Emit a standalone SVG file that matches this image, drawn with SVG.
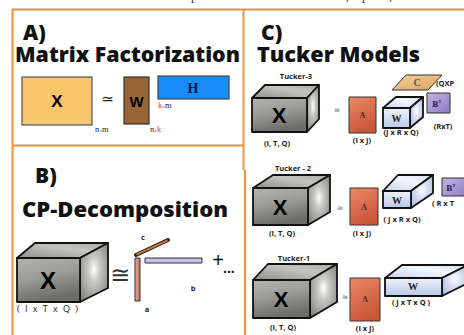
<svg xmlns="http://www.w3.org/2000/svg" width="464" height="335" viewBox="0 0 464 335">
  <defs>
    <linearGradient id="gFront" x1="0" y1="0" x2="0.3" y2="1">
      <stop offset="0" stop-color="#b4b4b0"/>
      <stop offset="0.5" stop-color="#9a9a96"/>
      <stop offset="1" stop-color="#6c6c68"/>
    </linearGradient>
    <linearGradient id="gTop" x1="0" y1="1" x2="1" y2="0">
      <stop offset="0" stop-color="#8e8e8a"/>
      <stop offset="0.6" stop-color="#c4c4c0"/>
      <stop offset="1" stop-color="#a8a8a4"/>
    </linearGradient>
    <radialGradient id="gSide" cx="0.5" cy="0.45" r="0.7">
      <stop offset="0" stop-color="#ffffff"/>
      <stop offset="0.3" stop-color="#c8c8c6"/>
      <stop offset="1" stop-color="#7c7c78"/>
    </radialGradient>
    <linearGradient id="bFront" x1="0" y1="0" x2="0" y2="1">
      <stop offset="0" stop-color="#eef2fb"/>
      <stop offset="1" stop-color="#b9c8e8"/>
    </linearGradient>
    <linearGradient id="bTop" x1="0" y1="1" x2="1" y2="0">
      <stop offset="0" stop-color="#c6d2ee"/>
      <stop offset="0.6" stop-color="#f4f7fd"/>
      <stop offset="1" stop-color="#d2dcf2"/>
    </linearGradient>
    <radialGradient id="bSide" cx="0.5" cy="0.45" r="0.7">
      <stop offset="0" stop-color="#ffffff"/>
      <stop offset="0.35" stop-color="#d8e0f4"/>
      <stop offset="1" stop-color="#a9b8de"/>
    </radialGradient>
    <linearGradient id="gA" x1="0" y1="0" x2="0.4" y2="1">
      <stop offset="0" stop-color="#ec8a66"/>
      <stop offset="1" stop-color="#c9573a"/>
    </linearGradient>
    <linearGradient id="gB" x1="0" y1="0" x2="1" y2="1">
      <stop offset="0" stop-color="#c2b4e2"/>
      <stop offset="1" stop-color="#8f7cc2"/>
    </linearGradient>
    <linearGradient id="gC" x1="0" y1="0" x2="1" y2="1">
      <stop offset="0" stop-color="#f6d4a2"/>
      <stop offset="1" stop-color="#d99e5c"/>
    </linearGradient>
    <linearGradient id="gVa" x1="0" y1="0" x2="1" y2="0">
      <stop offset="0" stop-color="#e8a898"/>
      <stop offset="1" stop-color="#c07060"/>
    </linearGradient>
    <style>
      .frame { stroke: #f0923a; stroke-width: 2; fill: none; }
      .title { font-family: "Open Sans", "Liberation Sans", sans-serif; font-weight: 800; fill: #111; }
      .hd { font-size: 21px; }
      .sub { font-size: 21px; }
      .edge { stroke: #111; stroke-width: 1.8; stroke-linejoin: round; }
      .thin { stroke: #333; stroke-width: 1; stroke-linejoin: round; }
      .big { font-family: "Liberation Sans", Arial, sans-serif; font-weight: 700; fill: #000; text-anchor: middle; }
      .lbl { font-family: "Open Sans", "Liberation Sans", sans-serif; font-weight: 700; font-size: 7.5px; fill: #222; text-anchor: middle; }
      .ser { font-family: "Liberation Serif", "Times New Roman", serif; font-weight: 700; text-anchor: middle; }
      .dim { font-family: "Liberation Serif", "Times New Roman", serif; font-size: 8.5px; fill: #222; }
      .red { fill: #e2322e; }
    </style>
  </defs>

  <rect width="464" height="335" fill="#ffffff"/>

  <!-- clipped caption line above the frame -->
  <g font-family="Liberation Serif, serif" font-size="12" fill="#222">
    <text x="191" y="0">p</text>
    <text x="346" y="0">,</text>
    <text x="362" y="0">p</text>
    <text x="389" y="0">,</text>
  </g>

  <!-- panel frame -->
  <g id="frame">
    <line class="frame" x1="12" y1="9.5" x2="464" y2="9.5"/>
    <line class="frame" x1="12.5" y1="9" x2="12.5" y2="335"/>
    <line class="frame" x1="243.5" y1="9" x2="243.5" y2="170"/>
    <line class="frame" x1="245" y1="170" x2="245" y2="335"/>
    <line class="frame" x1="12" y1="145.5" x2="243" y2="145.5"/>
  </g>

  <!-- A) matrix factorization -->
  <g id="panelA">
    <text class="title hd" x="23" y="40">A)</text>
    <text class="title sub" x="15" y="62" textLength="225" lengthAdjust="spacingAndGlyphs">Matrix Factorization</text>
    <g id="A-X">
      <rect x="22" y="77" width="70" height="48" fill="#f8c66c" stroke="#555" stroke-width="1.2"/>
      <text class="big" x="57" y="107" font-size="17">X</text>
      <text class="dim" x="95" y="132">n<tspan font-size="5">×</tspan>m</text>
    </g>
    <text x="107.5" y="104" font-family="DejaVu Sans, sans-serif" font-size="15" text-anchor="middle" fill="#222">≃</text>
    <g id="A-W">
      <rect x="124" y="77" width="25" height="47" fill="#9a6534" stroke="#333" stroke-width="1.2"/>
      <text class="big" x="136.5" y="107" font-size="15">W</text>
      <text class="dim" x="150" y="132">n<tspan font-size="5">×</tspan><tspan class="red">k</tspan></text>
    </g>
    <g id="A-H">
      <rect x="158" y="76" width="71" height="23" fill="#1a8cfa" stroke="#444" stroke-width="1.2"/>
      <text class="ser" x="193" y="93" font-size="14" fill="#0a1a40">H</text>
      <text class="dim" x="158" y="108"><tspan class="red">k</tspan><tspan font-size="5">×</tspan>m</text>
    </g>
  </g>

  <!-- B) CP decomposition -->
  <g id="panelB">
    <text class="title hd" x="35" y="183">B)</text>
    <text class="title sub" x="22" y="217" textLength="206" lengthAdjust="spacingAndGlyphs">CP-Decomposition</text>
    <g id="B-X">
      <polygon class="edge" points="17,258 35,243 108,243 80,258" fill="url(#gTop)"/>
      <polygon class="edge" points="80,258 108,243 108,288 80,302" fill="url(#gSide)"/>
      <rect class="edge" x="17" y="258" width="63" height="44" fill="url(#gFront)"/>
      <text class="big" x="48" y="289" font-size="24">X</text>
      <text x="17" y="312" font-family="Open Sans, Liberation Sans, sans-serif" font-size="9" fill="#222" textLength="61" lengthAdjust="spacing">( I x T x Q )</text>
    </g>
    <text x="120" y="283" font-family="DejaVu Sans, sans-serif" font-size="24" text-anchor="middle" fill="#333">≅</text>
    <g id="B-a">
      <rect class="thin" x="135" y="258" width="5" height="43" fill="url(#gVa)"/>
      <text class="lbl" x="147" y="312" font-size="8">a</text>
    </g>
    <g id="B-c">
      <line x1="136" y1="255" x2="168" y2="240" stroke="#222" stroke-width="4" stroke-linecap="round"/>
      <line x1="136.5" y1="254.7" x2="167.5" y2="240.3" stroke="#c87a34" stroke-width="2"/>
      <text class="lbl" x="143" y="240" font-size="8">c</text>
    </g>
    <g id="B-b">
      <rect class="thin" x="145" y="258" width="57" height="5" fill="#c8c0e6"/>
      <text class="lbl" x="193" y="291" font-size="8">b</text>
    </g>
    <text x="218" y="267" font-family="Liberation Sans, sans-serif" font-size="20" text-anchor="middle" fill="#111">+</text>
    <text x="223" y="273" font-family="Liberation Sans, sans-serif" font-weight="700" font-size="14" fill="#111">...</text>
  </g>

  <!-- C) Tucker models -->
  <g id="panelC">
    <text class="title hd" x="261" y="40">C)</text>
    <text class="title sub" x="257" y="62" textLength="163" lengthAdjust="spacingAndGlyphs">Tucker Models</text>

    <!-- Tucker-3 -->
    <g id="T3">
      <text class="lbl" x="296" y="79">Tucker-3</text>
      <g id="T3-X">
        <polygon class="edge" points="252,98 265,85 319,85 307,98" fill="url(#gTop)"/>
        <polygon class="edge" points="307,98 319,85 319,119 307,132" fill="url(#gSide)"/>
        <rect class="edge" x="252" y="98" width="55" height="34" fill="url(#gFront)"/>
        <text class="big" x="279" y="123" font-size="22">X</text>
        <text class="lbl" x="277" y="146">(I, T, Q)</text>
      </g>
      <text x="337" y="113" font-family="DejaVu Sans, sans-serif" font-size="8" text-anchor="middle" fill="#777">≅</text>
      <g id="T3-A">
        <rect class="thin" x="349" y="97" width="27" height="36" fill="url(#gA)"/>
        <text class="ser" x="362.5" y="118" font-size="8" fill="#3a2a2a">A</text>
        <text class="lbl" x="362" y="143">(I x J)</text>
      </g>
      <g id="T3-W">
        <polygon class="edge" points="383,108 396,97 423,97 410,108" fill="url(#bTop)"/>
        <polygon class="edge" points="410,108 423,97 423,117 410,128" fill="url(#bSide)"/>
        <rect class="edge" x="383" y="108" width="27" height="20" fill="url(#bFront)"/>
        <text class="ser" x="396.5" y="122" font-size="10" fill="#222">W</text>
        <text class="lbl" x="401" y="135">(J x R x Q)</text>
      </g>
      <g id="T3-C">
        <polygon class="thin" points="392,90 406,75 442,75 428,90" fill="url(#gC)"/>
        <text class="ser" x="417" y="86" font-size="10" fill="#555">C</text>
        <text class="lbl" x="445" y="86" text-anchor="start">(QXP</text>
      </g>
      <g id="T3-B">
        <rect class="thin" x="427" y="93" width="23" height="20" fill="url(#gB)"/>
        <text class="ser" x="437" y="107" font-size="9" fill="#2a2040">B<tspan font-size="5" dy="-4">T</tspan></text>
        <text class="lbl" x="443" y="129">(RxT)</text>
      </g>
    </g>

    <!-- Tucker-2 -->
    <g id="T2">
      <text class="lbl" x="293" y="171">Tucker - 2</text>
      <g id="T2-X">
        <polygon class="edge" points="253,188 273,175 330,175 308,188" fill="url(#gTop)"/>
        <polygon class="edge" points="308,188 330,175 330,212 308,225" fill="url(#gSide)"/>
        <rect class="edge" x="253" y="188" width="55" height="37" fill="url(#gFront)"/>
        <text class="big" x="280" y="215" font-size="22">X</text>
        <text class="lbl" x="282" y="236">(I, T, Q)</text>
      </g>
      <text x="340" y="211" font-family="DejaVu Sans, sans-serif" font-size="8" text-anchor="middle" fill="#777">≅</text>
      <g id="T2-A">
        <rect class="thin" x="350" y="188" width="28" height="37" fill="url(#gA)"/>
        <text class="ser" x="364" y="210" font-size="8" fill="#3a2a2a">Λ</text>
        <text class="lbl" x="362" y="236">(I x J)</text>
      </g>
      <g id="T2-W">
        <polygon class="edge" points="383,191 398,175 433,175 411,191" fill="url(#bTop)"/>
        <polygon class="edge" points="411,191 433,175 433,193 411,208" fill="url(#bSide)"/>
        <rect class="edge" x="383" y="191" width="28" height="17" fill="url(#bFront)"/>
        <text class="ser" x="397" y="204" font-size="10" fill="#222">W</text>
        <text class="lbl" x="402" y="222">( J x R x Q)</text>
      </g>
      <g id="T2-B">
        <rect class="thin" x="442" y="178" width="26" height="18" fill="url(#gB)"/>
        <text class="ser" x="451" y="191" font-size="9" fill="#2a2040">B<tspan font-size="5" dy="-4">T</tspan></text>
        <text class="lbl" x="443" y="206" text-anchor="start">( R x T</text>
      </g>
    </g>

    <!-- Tucker-1 -->
    <g id="T1">
      <text class="lbl" x="294" y="261">Tucker-1</text>
      <g id="T1-X">
        <polygon class="edge" points="253,280 268,264 337,264 310,280" fill="url(#gTop)"/>
        <polygon class="edge" points="310,280 337,264 337,302 310,318" fill="url(#gSide)"/>
        <rect class="edge" x="253" y="280" width="57" height="38" fill="url(#gFront)"/>
        <text class="big" x="281" y="307" font-size="22">X</text>
        <text class="lbl" x="283" y="330">(I, T, Q)</text>
      </g>
      <text x="345" y="300" font-family="DejaVu Sans, sans-serif" font-size="8" text-anchor="middle" fill="#777">≅</text>
      <g id="T1-A">
        <rect class="thin" x="350" y="278" width="30" height="43" fill="url(#gA)"/>
        <text class="ser" x="365" y="302" font-size="8" fill="#3a2a2a">Λ</text>
        <text class="lbl" x="365" y="331">(I x J)</text>
      </g>
      <g id="T1-W">
        <polygon class="edge" points="385,278 402,265 468,265 442,278" fill="url(#bTop)"/>
        <polygon class="edge" points="442,278 468,265 468,283 442,296" fill="url(#bSide)"/>
        <rect class="edge" x="385" y="278" width="57" height="18" fill="url(#bFront)"/>
        <text class="ser" x="413" y="290" font-size="10" fill="#222">W</text>
        <text class="lbl" x="411" y="305">( J x T x Q )</text>
      </g>
    </g>
  </g>
</svg>
